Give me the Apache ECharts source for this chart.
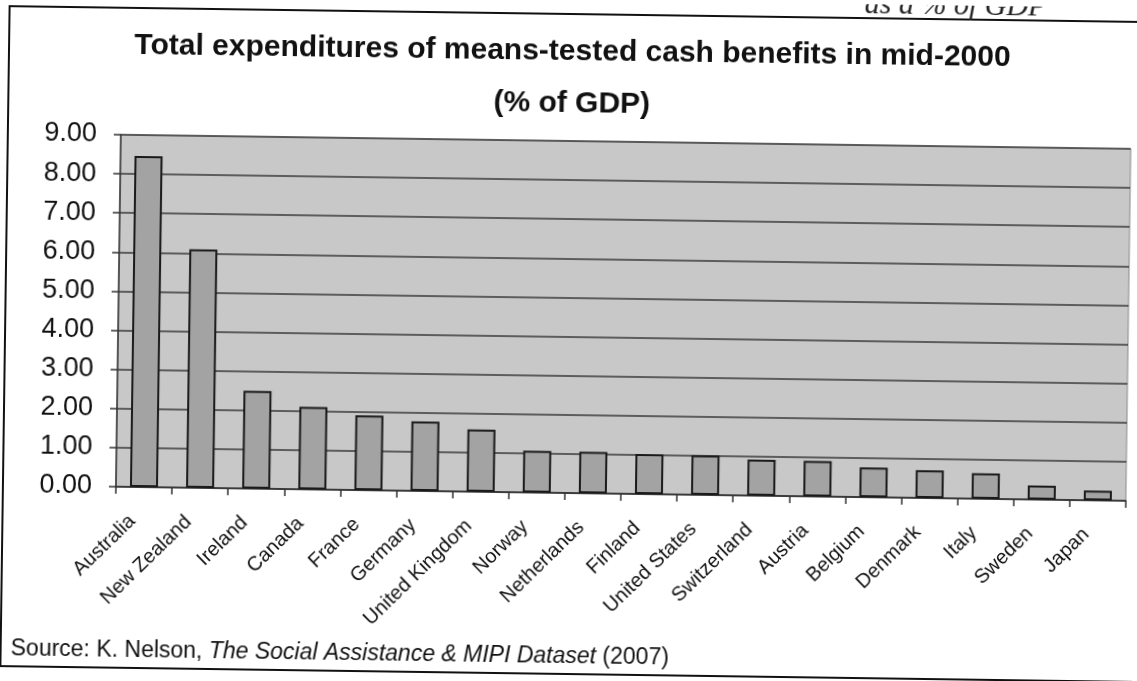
<!DOCTYPE html>
<html>
<head>
<meta charset="utf-8">
<script src="https://cdn.jsdelivr.net/npm/echarts@6/dist/echarts.min.js"></script>
<style>
html,body{margin:0;padding:0;background:#fff;overflow:hidden;}
#chart{width:1137px;height:681px;transform:rotate(0.8deg);transform-origin:50% 50%;}
</style>
</head>
<body>
<div id="chart"></div>
<script>
const categories = ["Australia","New Zealand","Ireland","Canada","France","Germany","United Kingdom","Norway","Netherlands","Finland","United States","Switzerland","Austria","Belgium","Denmark","Italy","Sweden","Japan"];
const values = [8.46, 6.10, 2.50, 2.11, 1.91, 1.78, 1.59, 1.07, 1.06, 1.02, 1.01, 0.92, 0.91, 0.76, 0.71, 0.65, 0.36, 0.25];
const titleLines = ["Total expenditures of means-tested cash benefits in mid-2000", "(% of GDP)"];
const sourceParts = ["Source: K. Nelson, ", "The Social Assistance & MIPI Dataset", " (2007)"];
const headerFragment = "as a % of GDP";

const chart = echarts.init(document.getElementById('chart'), null, {renderer: 'canvas'});
const font = 'Liberation Sans, Arial, sans-serif';
chart.setOption({
  backgroundColor: '#ffffff',
  animation: false,
  title: {
    text: titleLines.join('\n'),
    left: 'center',
    top: 21,
    textStyle: {fontFamily: font, fontSize: 30, fontWeight: 'bold', color: '#111', lineHeight: 52}
  },
  grid: {left: 118, right: 9, top: 141, bottom: 188, show: true, backgroundColor: '#c8c8c8', borderColor: '#8a8a8a', borderWidth: 1},
  xAxis: {
    type: 'category',
    data: categories,
    axisLine: {lineStyle: {color: '#333', width: 1.5}},
    axisTick: {show: true, length: 7, lineStyle: {color: '#333', width: 1.5}},
    axisLabel: {rotate: 45, fontFamily: font, fontSize: 20, color: '#111', margin: 20, interval: 0, padding: [0, 16, 0, 0]}
  },
  yAxis: {
    type: 'value',
    min: 0, max: 9, interval: 1,
    axisLine: {show: true, lineStyle: {color: '#333', width: 1.5}},
    axisTick: {show: true, length: 7, lineStyle: {color: '#333', width: 1.5}},
    splitLine: {show: true, lineStyle: {color: '#3a3a3a', width: 1.5}},
    axisLabel: {fontFamily: font, fontSize: 27, color: '#111', margin: 24, formatter: v => v.toFixed(2)}
  },
  series: [{
    type: 'bar',
    data: values,
    barWidth: '50%',
    itemStyle: {color: '#a3a3a3', borderColor: '#1a1a1a', borderWidth: 2}
  }],
  graphic: [
    {type: 'rect', shape: {x: 5, y: 14, width: 1200, height: 660}, style: {fill: 'none', stroke: '#111', lineWidth: 2}, silent: true},
    {type: 'text', left: 860, top: -14, style: {text: headerFragment, font: 'italic 30px "Liberation Serif", serif', fill: '#222'}},
    {type: 'text', left: 15, top: 645, style: {
      text: '{n|' + sourceParts[0] + '}{i|' + sourceParts[1] + '}{n|' + sourceParts[2] + '}',
      rich: {
        n: {fontFamily: font, fontSize: 23, fill: '#111', color: '#111'},
        i: {fontFamily: font, fontSize: 23, fontStyle: 'italic', fill: '#111', color: '#111'}
      }
    }}
  ]
});
</script>
</body>
</html>
